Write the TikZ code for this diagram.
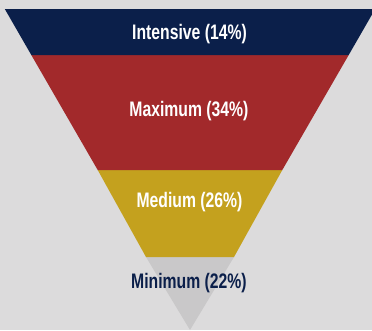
\documentclass[tikz,border=0pt]{standalone}
\usepackage{fontspec}
\setmainfont{Liberation Sans}
\definecolor{bg}{HTML}{DCDBDC}
\definecolor{navy}{HTML}{0B1F4A}
\definecolor{brick}{HTML}{A2292B}
\definecolor{gold}{HTML}{C4A11E}
\definecolor{tip}{HTML}{C9C8C9}
\tikzset{
  lbl/.style={font=\fontsize{21}{21}\selectfont\bfseries, text=white, inner sep=0pt},
  band/.style={draw=none}
}
\newcommand{\cond}[1]{\scalebox{0.75}[1]{#1}}
\begin{document}
\begin{tikzpicture}[x=1pt,y=-1pt]
\fill[bg] (0,0) rectangle (372,330);
\useasboundingbox (0,0) rectangle (372,330);
% apex at (190,330), slope 0.577
\coordinate (apex) at (190,330);
\fill[tip] (146,257) -- (234,257) -- (apex) -- cycle;
\fill[gold] (97.7,170) -- (282.3,170) -- (234,257) -- (146,257) -- cycle;
\fill[brick] (31.3,55) -- (348.7,55) -- (282.3,170) -- (97.7,170) -- cycle;
\fill[navy] (4.8,9) -- (375.2,9) -- (348.7,55) -- (31.3,55) -- cycle;
\node[lbl] (t1) at (189.5,34) {\cond{Intensive (14\%)}};
\node[lbl] (t2) at (189,111.5) {\cond{Maximum (34\%)}};
\node[lbl] (t3) at (189.5,202) {\cond{Medium (26\%)}};
\node[lbl, text=navy] (t4) at (189,283) {\cond{Minimum (22\%)}};
\end{tikzpicture}
\end{document}
